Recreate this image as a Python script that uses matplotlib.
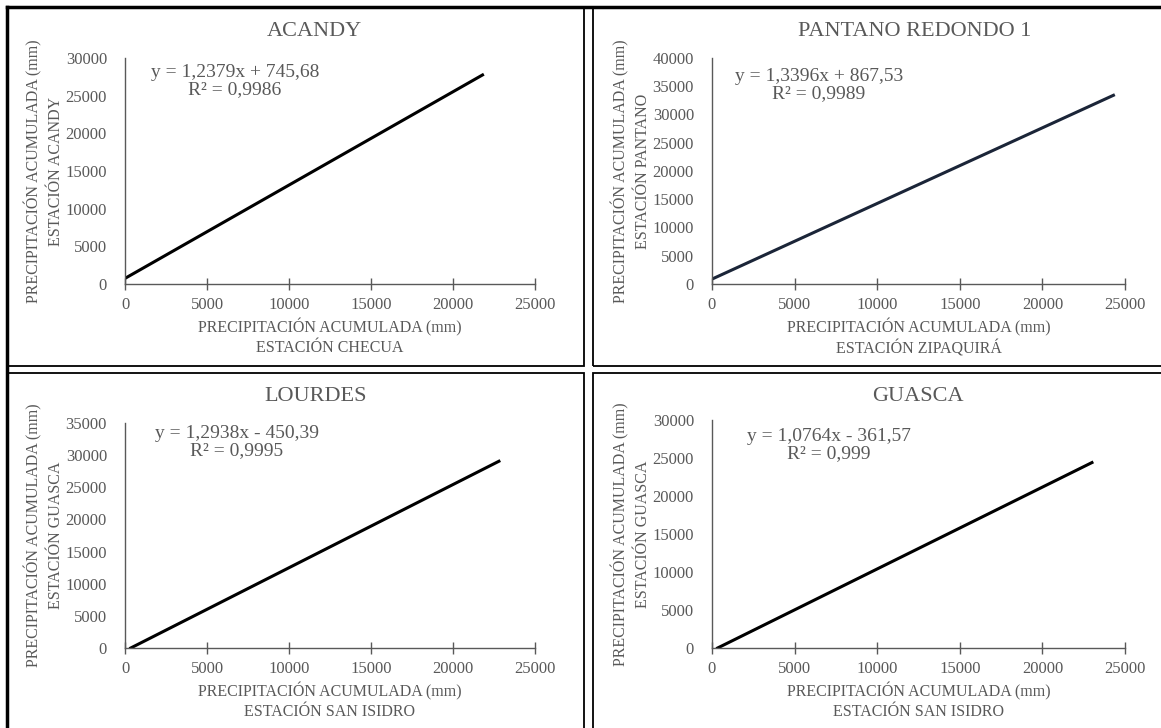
import matplotlib
matplotlib.use('Agg')
import matplotlib.pyplot as plt
from matplotlib.patches import Rectangle
from matplotlib.lines import Line2D

plt.rcParams['font.family'] = ['Liberation Serif', 'DejaVu Serif']

titles = ['ACANDY', 'PANTANO REDONDO 1', 'LOURDES', 'GUASCA']
x_stations = ['ESTACIÓN CHECUA', 'ESTACIÓN ZIPAQUIRÁ', 'ESTACIÓN SAN ISIDRO', 'ESTACIÓN SAN ISIDRO']
y_stations = ['ESTACIÓN ACANDY', 'ESTACIÓN PANTANO', 'ESTACIÓN GUASCA', 'ESTACIÓN GUASCA']
equations = ['y = 1,2379x + 745,68\nR² = 0,9986',
             'y = 1,3396x + 867,53\nR² = 0,9989',
             'y = 1,2938x - 450,39\nR² = 0,9995',
             'y = 1,0764x - 361,57\nR² = 0,999']

# line endpoints (accumulated precipitation, mm)
x_acandy = [0, 21800]
y_acandy = [745, 27750]
x_pantano = [0, 24300]
y_pantano = [868, 33400]
x_lourdes = [350, 22800]
y_lourdes = [0, 29050]
x_guasca = [340, 23000]
y_guasca = [0, 24400]

ymax = [30000, 40000, 35000, 30000]
xmax = 25000

series = [(x_acandy, y_acandy), (x_pantano, y_pantano),
          (x_lourdes, y_lourdes), (x_guasca, y_guasca)]
line_colors = ['black', '#1b2538', 'black', 'black']

W, H = 1161, 728
fig = plt.figure(figsize=(11.61, 7.28), dpi=100)

# axes placement in pixels: left, right, bottom, top
boxes = [(125, 535, 284, 58), (712, 1125, 284, 58),
         (125, 535, 648, 423), (712, 1125, 648, 420)]
title_pos = [(314, 32), (915, 32), (316, 397), (918, 397)]
eq_pos = [(0.268, 0.975), (0.259, 0.955), (0.273, 0.99), (0.283, 0.965)]

txt = '#595959'

for i in range(4):
    l, r, b, t = boxes[i]
    ax = fig.add_axes([l / W, 1 - b / H, (r - l) / W, (b - t) / H])
    xs, ys = series[i]
    ax.plot(xs, ys, color=line_colors[i], lw=2.2)
    ax.set_xlim(0, xmax)
    ax.set_ylim(0, ymax[i])
    ax.set_xticks(range(0, xmax + 1, 5000))
    ax.set_yticks(range(0, ymax[i] + 1, 5000))
    for s in ['top', 'right']:
        ax.spines[s].set_visible(False)
    for s in ['left', 'bottom']:
        ax.spines[s].set_color('#595959')
        ax.spines[s].set_linewidth(1.0)
    ax.tick_params(axis='x', direction='inout', length=9, width=1.0,
                   color='#595959', labelcolor=txt, labelsize=12, pad=5)
    ax.tick_params(axis='y', length=0, labelcolor=txt, labelsize=12, pad=13)
    ax.set_xlabel('PRECIPITACIÓN ACUMULADA (mm)\n' + x_stations[i],
                  color=txt, fontsize=11.5, linespacing=1.25, labelpad=4)
    ax.set_ylabel('PRECIPITACIÓN ACUMULADA (mm)\n' + y_stations[i],
                  color=txt, fontsize=11.5, linespacing=1.45, labelpad=1)
    ax.text(eq_pos[i][0], eq_pos[i][1], equations[i], transform=ax.transAxes,
            ha='center', va='top', multialignment='center', color=txt,
            fontsize=14, linespacing=1.0)
    fig.text(title_pos[i][0] / W, 1 - title_pos[i][1] / H, titles[i],
             ha='center', va='center', color=txt, fontsize=16)

# panel frames
frames = [(7, 7, 584, 366), (593, 7, 1175, 366),
          (7, 373, 584, 740), (593, 373, 1175, 740)]
for x0, y0, x1, y1 in frames:
    fig.add_artist(Rectangle((x0 / W, 1 - y1 / H), (x1 - x0) / W, (y1 - y0) / H,
                             transform=fig.transFigure, fill=False,
                             edgecolor='black', lw=1.3))
fig.add_artist(Line2D([7 / W, 1], [1 - 7 / H, 1 - 7 / H], transform=fig.transFigure,
                      color='black', lw=2.5))
fig.add_artist(Line2D([7 / W, 7 / W], [0, 1 - 7 / H], transform=fig.transFigure,
                      color='black', lw=2.5))

fig.savefig('out.png', dpi=100)
